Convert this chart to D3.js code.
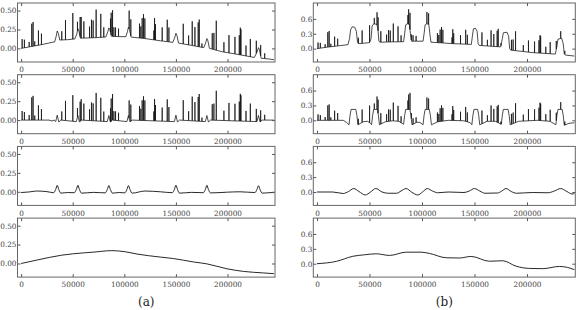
<!DOCTYPE html>
<html>
<head>
<meta charset="utf-8">
<script src="https://cdn.jsdelivr.net/npm/d3@7"></script>
<style>
  body { margin: 0; background: #fff; }
  svg { display: block; }
</style>
</head>
<body>
<svg width="579" height="310"></svg>
<script>
const xTicks = [0, 50000, 100000, 150000, 200000];
const yTicksA = [0, 0.25, 0.5];
const yTicksB = [0, 0.3, 0.6];
const panelLabels = ['(a)', '(b)'];

// impulse spikes (position, height above the local curve)
const spikeX = [1000, 3200, 7800, 10300, 11600, 13200, 16800, 19700, 39400, 43000, 50100, 54600, 57200, 58200, 60800,
  66300, 68200, 69800, 72700, 77200, 80100, 86600, 87300, 88600, 89900, 91500, 94400, 104700, 106300,
  114700, 116000, 117300, 118600, 119900, 128600, 129300, 130200, 136700, 141600, 143200,
  157100, 162300, 165800, 168400, 171600, 172600, 175200, 185200, 186800, 189100, 196500, 201400, 207200,
  211400, 212400, 213000, 217900, 222100, 227900, 232100, 236000];
const spikeH = [0.12, 0.106, 0.066, 0.3, 0.32, 0.06, 0.195, 0.146, 0.115, 0.26, 0.345, 0.12, 0.26, 0.28, 0.22,
  0.15, 0.24, 0.23, 0.37, 0.31, 0.13, 0.18, 0.3, 0.345, 0.12, 0.12, 0.106, 0.24, 0.22,
  0.19, 0.155, 0.266, 0.32, 0.266, 0.124, 0.29, 0.21, 0.18, 0.29, 0.19,
  0.266, 0.124, 0.32, 0.25, 0.32, 0.36, 0.05, 0.21, 0.22, 0.39, 0.13, 0.235, 0.226,
  0.257, 0.36, 0.34, 0.137, 0.235, 0.168, 0.146, 0.07];

// (a) column
const baseA1 = [[0,0],[10000,0.025],[20000,0.05],[30000,0.08],[32500,0.085],[34000,0.16],[35000,0.23],[36000,0.2],[37500,0.11],
  [45000,0.115],[52000,0.125],[54000,0.19],[55000,0.26],[56000,0.23],[57500,0.135],[70000,0.14],[82000,0.15],[84000,0.22],
  [85000,0.27],[86000,0.25],[87500,0.16],[95000,0.155],[101500,0.155],[103000,0.22],[104000,0.28],[105000,0.25],[106500,0.15],
  [120000,0.13],[135000,0.1],[147000,0.08],[149000,0.15],[150000,0.2],[151000,0.17],[152500,0.07],[165000,0.04],[177000,0.01],
  [179000,0.08],[180000,0.13],[181000,0.1],[182500,0.0],[195000,-0.045],[210000,-0.08],[226000,-0.12],[228500,-0.05],
  [230000,0.01],[231000,-0.02],[232500,-0.13],[240000,-0.14],[245000,-0.15]];
const baseA2 = [[0,0],[27000,0],[30000,-0.012],[32000,0],[33500,-0.02],[35000,0.065],[36500,-0.025],[38500,0],
  [53500,-0.02],[55000,0.06],[56500,-0.025],[58500,0],[83500,-0.02],[85000,0.06],[86500,-0.025],[88500,0],
  [102500,-0.02],[104000,0.06],[105500,-0.025],[107500,0],[148500,-0.02],[150000,0.065],[151500,-0.025],[153500,0],
  [178500,-0.02],[180000,0.06],[181500,-0.025],[183500,0],[228500,-0.02],[230000,0.06],[231500,-0.025],[233500,0],[245000,0]];
const waveA = [[0,-0.01],[8000,-0.002],[15000,0.01],[25000,0.002],[31500,-0.012],[33500,0.03],[35000,0.085],[36500,0.03],
  [38500,-0.018],[45000,-0.01],[51500,-0.012],[53500,0.03],[55000,0.085],[56500,0.03],[58500,-0.018],[70000,-0.008],
  [81500,-0.014],[83500,0.03],[85000,0.082],[86500,0.03],[88500,-0.018],[95000,-0.01],[100500,-0.014],[102500,0.03],
  [104000,0.082],[105500,0.03],[107500,-0.018],[120000,0.01],[135000,0],[146500,-0.012],[148500,0.03],[150000,0.088],
  [151500,0.03],[153500,-0.018],[165000,-0.008],[176500,-0.012],[178500,0.03],[180000,0.085],[181500,0.03],[183500,-0.015],
  [200000,-0.005],[212000,0],[226500,-0.01],[228500,0.03],[230000,0.08],[231500,0.03],[233500,-0.018],[240000,-0.012],[245000,-0.01]];
const trendA = [[0,0],[15200,0.045],[39400,0.11],[60400,0.14],[70100,0.15],[87900,0.17],[100800,0.155],[112200,0.125],
  [134800,0.085],[147700,0.065],[167100,0.02],[180000,-0.005],[199400,-0.07],[215600,-0.105],[235000,-0.125],[245000,-0.135]];

// (b) column
const baseB1 = [[0,0],[10000,0.03],[20000,0.055],[29500,0.08],[31000,0.2],[32000,0.38],[33500,0.44],[36000,0.43],[37500,0.35],
  [38500,0.15],[39500,0.1],[50000,0.12],[51500,0.2],[52500,0.45],[54000,0.5],[57000,0.49],[58000,0.4],[59000,0.15],[60000,0.13],
  [82500,0.14],[83500,0.3],[84500,0.48],[86000,0.5],[88000,0.49],[89000,0.3],[90000,0.15],[101000,0.15],[102000,0.3],
  [103000,0.48],[104500,0.5],[106500,0.49],[107500,0.3],[108500,0.13],[130000,0.1],[147000,0.085],[148000,0.25],[149000,0.4],
  [151000,0.41],[152500,0.35],[153500,0.1],[154500,0.065],[175000,0.035],[176500,0.2],[177500,0.32],[181000,0.33],[182500,0.25],
  [183500,0],[184500,-0.03],[205000,-0.08],[227000,-0.11],[228500,0.05],[229500,0.19],[233000,0.21],[234500,0.1],[235500,-0.1],
  [236500,-0.13],[245000,-0.15]];
const baseB2 = [[0,0],[25000,0],[28000,-0.04],[30500,-0.09],[31500,0.1],[32500,0.22],[37000,0.22],[38000,0.1],[39000,-0.09],
  [44000,-0.03],[48000,-0.02],[51000,-0.06],[52000,-0.09],[53000,0.1],[54000,0.22],[57500,0.22],[58500,0.1],[59500,-0.09],
  [65000,-0.03],[72000,-0.01],[78000,-0.02],[82500,-0.08],[83500,0.1],[84500,0.22],[88500,0.22],[89500,0.1],[90500,-0.09],
  [95000,-0.04],[98000,-0.04],[101000,-0.09],[102000,0.1],[103000,0.22],[107000,0.22],[108000,0.1],[109000,-0.09],[115000,-0.03],
  [125000,0],[140000,-0.01],[146000,-0.05],[147500,-0.09],[148500,0.1],[149500,0.22],[153000,0.22],[154000,0.1],[155000,-0.09],
  [162000,-0.02],[170000,-0.02],[175500,-0.08],[176500,0.1],[177500,0.22],[182000,0.22],[183000,0.1],[184000,-0.09],[192000,-0.02],
  [210000,0],[222000,-0.02],[227500,-0.09],[228500,0.1],[229500,0.22],[233500,0.22],[234500,0.1],[235500,-0.1],[240000,-0.06],[245000,-0.05]];
const waveB = [[0,0],[15000,0],[25000,-0.03],[30000,0.01],[35000,0.07],[40000,0.01],[46000,-0.06],[51000,0],[56000,0.07],
  [62000,0],[68000,-0.025],[76000,-0.025],[80000,0.02],[85000,0.07],[90000,0],[96000,-0.06],[100500,0],[105000,0.07],
  [110000,0.02],[115000,-0.015],[125000,0],[140000,-0.01],[145000,0.02],[150000,0.07],[155000,0.02],[160000,-0.025],
  [172000,-0.02],[176000,0.02],[180000,0.07],[185000,0.01],[190000,-0.025],[205000,-0.01],[220000,-0.015],[226000,0.02],
  [232000,0.07],[238000,0.01],[243000,-0.04],[245000,-0.035]];
const trendB = [[0,0],[18400,0.047],[34200,0.15],[45300,0.18],[56400,0.2],[69100,0.167],[85000,0.233],[99200,0.233],
  [107200,0.207],[123000,0.12],[135700,0.115],[146800,0.147],[164200,0.05],[176900,0.06],[189600,-0.05],[202300,-0.095],
  [215000,-0.1],[230800,-0.055],[238700,-0.075],[245000,-0.12]];

const svg = d3.select('svg');
const rowTop = [3, 74.7, 146.4, 218.1];
const rowH = 59;
const font = '"DejaVu Serif", serif';

const columns = [
  { x0: 17.5, x1: 275, yDom: [-0.18, 0.6], yTicks: yTicksA, fmt: d3.format('.2f'),
    rows: [[baseA1, true], [baseA2, true], [waveA, false], [trendA, false]] },
  { x0: 313.3, x1: 575.3, yDom: [-0.27, 0.92], yTicks: yTicksB, fmt: d3.format('.1f'),
    rows: [[baseB1, true], [baseB2, true], [waveB, false], [trendB, false]] }
];

// linear lookup of the curve under a spike
function curveAt(pts, x) {
  const i = d3.bisector(d => d[0]).right(pts, x);
  if (i <= 0) return pts[0][1];
  if (i >= pts.length) return pts[pts.length - 1][1];
  const a = pts[i - 1], b = pts[i];
  return a[1] + (b[1] - a[1]) * (x - a[0]) / (b[0] - a[0]);
}

function withSpikes(pts) {
  const out = pts.slice();
  spikeX.forEach((sx, i) => {
    const b = curveAt(pts, sx);
    out.push([sx - 50, curveAt(pts, sx - 50)], [sx, b + spikeH[i]], [sx + 50, curveAt(pts, sx + 50)]);
  });
  return out.sort((p, q) => p[0] - q[0]);
}

columns.forEach((col, ci) => {
  const x = d3.scaleLinear().domain([-3500, 246000]).range([col.x0, col.x1]);

  col.rows.forEach(([pts, spiky], ri) => {
    const top = rowTop[ri];
    const y = d3.scaleLinear().domain(col.yDom).range([top + rowH, top]);
    const g = svg.append('g');

    const clipId = `clip-${ci}-${ri}`;
    g.append('clipPath').attr('id', clipId)
      .append('rect').attr('x', col.x0).attr('y', top).attr('width', col.x1 - col.x0).attr('height', rowH);

    const data = spiky ? withSpikes(pts) : pts;
    const line = d3.line().x(d => x(d[0])).y(d => y(d[1]))
      .curve(spiky ? d3.curveLinear : d3.curveMonotoneX);
    g.append('path').datum(data)
      .attr('clip-path', `url(#${clipId})`)
      .attr('d', line)
      .attr('fill', 'none')
      .attr('stroke', '#111')
      .attr('stroke-width', spiky ? 0.75 : 0.9)
      .attr('stroke-linejoin', 'round');

    // inward ticks on all four sides
    g.append('g').attr('transform', `translate(0,${top + rowH})`)
      .call(d3.axisBottom(x).tickValues(xTicks).tickFormat(d3.format('d')).tickSizeInner(-3).tickSizeOuter(0).tickPadding(5));
    g.append('g').attr('transform', `translate(0,${top})`)
      .call(d3.axisTop(x).tickValues(xTicks).tickFormat('').tickSizeInner(-3).tickSizeOuter(0));
    const left = g.append('g').attr('transform', `translate(${col.x0},0)`)
      .call(d3.axisLeft(y).tickValues(col.yTicks).tickFormat(col.fmt).tickSizeInner(-3).tickSizeOuter(0).tickPadding(3));
    g.append('g').attr('transform', `translate(${col.x1},0)`)
      .call(d3.axisRight(y).tickValues(col.yTicks).tickFormat('').tickSizeInner(-3).tickSizeOuter(0));

    g.selectAll('.domain').remove();
    g.selectAll('.tick line').attr('stroke', '#555');
    g.selectAll('.tick text').attr('fill', '#444').style('font-family', font).style('font-size', '7.3px');
    left.selectAll('.tick text').attr('x', -1);

    g.append('rect')
      .attr('x', col.x0).attr('y', top).attr('width', col.x1 - col.x0).attr('height', rowH)
      .attr('fill', 'none').attr('stroke', '#666').attr('stroke-width', 1);
  });

  svg.append('text')
    .attr('x', (col.x0 + col.x1) / 2).attr('y', 306)
    .attr('text-anchor', 'middle')
    .style('font-family', font).style('font-size', '12px')
    .attr('fill', '#222')
    .text(panelLabels[ci]);
});
</script>
</body>
</html>
